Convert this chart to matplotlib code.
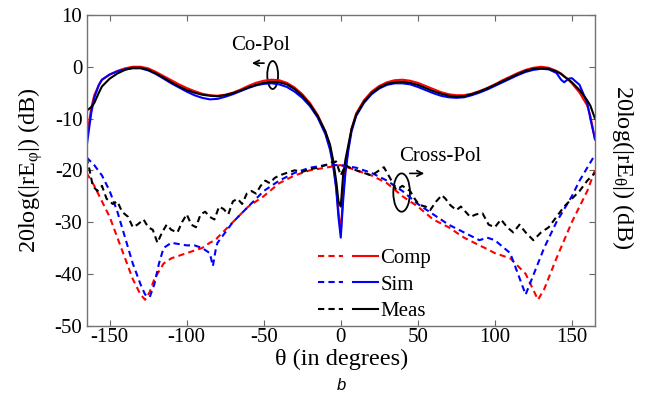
import numpy as np
import matplotlib
matplotlib.use("Agg")
import matplotlib.pyplot as plt
from matplotlib.patches import Ellipse
from matplotlib.legend_handler import HandlerTuple
from matplotlib.lines import Line2D

plt.rcParams['font.family'] = ['Liberation Serif', 'DejaVu Serif']
plt.rcParams['mathtext.fontset'] = 'custom'
plt.rcParams['mathtext.rm'] = 'Liberation Serif'
plt.rcParams['mathtext.it'] = 'Liberation Serif:italic'
plt.rcParams['axes.unicode_minus'] = False

# co-pol (solid)
th_co = [-165, -162, -160, -157, -155, -150, -145, -140, -135, -130, -125, -120, -115, -110, -105,
         -100, -95, -90, -85, -80, -75, -70, -65, -60, -55, -50, -45, -40, -35, -30, -25, -20, -15,
         -10, -7, -5, -3, -1.5, 0, 1.5, 3, 5, 7, 10, 15, 20, 25, 30, 35, 40, 45, 50, 55, 60, 65,
         70, 75, 80, 85, 90, 95, 100, 105, 110, 115, 120, 125, 130, 135, 140, 143, 145, 148, 150,
         155, 160, 162, 165]
comp_co = [-14, -8, -5.5, -3.5, -2.5, -1.5, -0.8, -0.3, 0, 0, -0.3, -1, -1.8, -2.6, -3.4,
           -4.1, -4.7, -5.2, -5.5, -5.6, -5.4, -5, -4.4, -3.7, -3.1, -2.7, -2.5, -2.6, -3.1, -4, -5.3, -7, -9.3,
           -12.5, -15.5, -18.5, -23, -28, -32, -25, -20, -15.5, -12, -9, -6.5, -4.8, -3.7, -3, -2.6, -2.5, -2.7, -3.1, -3.7, -4.3, -4.9,
           -5.3, -5.5, -5.5, -5.2, -4.7, -4.1, -3.4, -2.6, -1.9, -1.2, -0.6, -0.2, 0, -0.2, -0.8, -1.3, -1.8, -2.6, -3.2,
           -5, -7.5, -9.5, -14]
sim_co = [-15.5, -9, -6, -3.5, -2.5, -1.5, -0.9, -0.5, -0.3, -0.3, -0.7, -1.4, -2.3, -3.2, -4,
          -4.8, -5.5, -6, -6.3, -6.2, -5.8, -5.3, -4.7, -4.1, -3.6, -3.3, -3.2, -3.4, -3.9, -4.8, -6, -7.6, -9.8,
          -13, -16, -19, -23.5, -29, -33, -26, -20.5, -16, -12.5, -9.5, -7, -5.3, -4.2, -3.5, -3.2, -3.2, -3.4, -3.9, -4.5, -5.1, -5.6,
          -5.9, -6, -5.9, -5.5, -5, -4.4, -3.7, -3, -2.3, -1.6, -1, -0.6, -0.4, -0.5, -1.2, -2.5, -3, -2.3, -2.2,
          -3.5, -7, -10, -14]
meas_co = [-8.5, -7.8, -7, -5, -3.8, -2.3, -1.3, -0.6, -0.2, -0.2, -0.6, -1.3, -2.1, -3, -3.8,
           -4.5, -5, -5.4, -5.6, -5.7, -5.5, -5.1, -4.6, -4, -3.5, -3.1, -2.9, -3, -3.4, -4.3, -5.6, -7.3, -9.5,
           -12.5, -15, -18, -22, -26, -27, -21, -18, -15, -12, -9.3, -6.8, -5.1, -4, -3.3, -3, -2.9, -3.1, -3.5, -4.1, -4.7, -5.2,
           -5.6, -5.8, -5.7, -5.3, -4.8, -4.2, -3.5, -2.8, -2.1, -1.4, -0.8, -0.4, -0.3, -0.4, -0.9, -1.4, -1.9, -2.5, -3,
           -4.5, -6.5, -7.5, -10]

# cross-pol (dashed)
th_x = [-165, -160, -155, -150, -145, -140, -135, -130, -127, -124, -121, -118, -115, -110, -100,
        -95, -90, -85, -83, -81, -80, -75, -70, -60, -50, -40, -30, -20, -10, 0, 10, 20, 30, 40,
        50, 60, 70, 80, 90, 95, 100, 110, 115, 120, 124, 128, 132, 140, 150, 155, 160, 165]
comp_x = [-20.5, -23, -26, -29, -33, -37, -41, -44, -45, -43.5, -41, -39.5, -38, -37, -36,
          -35.5, -35, -34, -33.7, -33.4, -33, -31.5, -30, -27, -25, -22.5, -21, -20, -19.5, -19, -20, -21, -22.5, -25,
          -27, -29.5, -31, -33, -34.5, -35.2, -36, -37, -38.5, -40, -42.5, -45, -43, -37, -30, -27, -24, -20]
sim_x = [-17.5, -19, -21, -24, -28, -33, -38, -42, -44, -44.5, -42, -38, -35, -34, -34.5,
         -34.5, -35, -36, -38.5, -35, -34, -32, -30, -27, -24, -22, -20.5, -19.5, -19, -19, -19.5, -20.5, -22, -24,
         -26.5, -28.5, -30.5, -32, -33.5, -33, -33.5, -36, -40, -44, -41, -38, -35, -30, -25, -22, -19.5, -17]

th_meas_x = [-165, -163, -161, -158, -155, -152, -148, -145, -142, -138, -135, -132, -128, -125, -122,
             -119, -116, -113, -110, -106, -103, -100, -97, -94, -91, -88, -85, -82, -79, -76, -73,
             -70, -67, -64, -61, -58, -55, -52, -49, -46, -43, -40, -35, -30, -25, -20, -15, -10, -6,
             -3, 0, 3, 6, 10, 15, 20, 25, 28, 32, 36, 40, 45, 48, 51, 55, 58, 62, 65.6, 68, 71, 75,
             78, 81, 84, 88, 92, 96, 100, 104, 108, 112, 116, 120, 125, 130, 135, 140, 145, 150, 155,
             160, 165]
meas_x = [-17.5, -20, -23, -24, -23, -25.5, -26.5, -26, -28, -29, -31, -30.5, -29.5, -31, -31.5,
          -34, -32, -30.5, -31.5, -32, -30, -28.5, -30.5, -31, -28.5, -28, -29, -29.5, -27, -27.5, -28.5,
          -26, -25.5, -26.5, -24.5, -24, -24.5, -23, -22, -22.5, -21.5, -21, -20.5, -20, -20.3, -19.8, -19.5, -19, -18.5,
          -18.3, -21, -19, -19.5, -20, -20.5, -21, -20, -19.4, -21.5, -23.8, -23, -24, -25.5, -26.7, -27, -27.7, -26, -24.8, -25.5, -26.7, -27.7,
          -27, -28, -29, -28.5, -28.3, -30.5, -31, -29.5, -31, -32, -30.5, -32, -33.5, -32, -31, -29, -27, -25.5, -24,
          -22, -20.5]

xticks = [-150, -100, -50, 0, 50, 100, 150]
yticks = [-50, -40, -30, -20, -10, 0, 10]

fig = plt.figure(figsize=(6.46, 4.05), dpi=100)
ax = fig.add_axes([0.134, 0.196, 0.787, 0.767])

lw = 1.5
dsh = (3, 2)
ax.plot(th_co, comp_co, color='red', lw=lw)
ax.plot(th_co, sim_co, color='blue', lw=lw)
ax.plot(th_co, meas_co, color='black', lw=lw)
ax.plot(th_x, comp_x, color='red', lw=lw, ls=(0, dsh))
ax.plot(th_x, sim_x, color='blue', lw=lw, ls=(0, dsh))
ax.plot(th_meas_x, meas_x, color='black', lw=lw, ls=(0, dsh))

ax.set_xlim(-165, 165)
ax.set_ylim(-50, 10)
ax.set_xticks(xticks)
ax.set_yticks(yticks)
ax.set_xticklabels([str(v) for v in xticks], family='Liberation Serif')
ax.set_yticklabels([str(v) for v in yticks], family='Liberation Serif')
ax.tick_params(direction='in', top=True, right=True, labelsize=15, length=4, color='0.4', pad=3)
ax.tick_params(axis='x', pad=2)
for s in ax.spines.values():
    s.set_color('0.45')
    s.set_linewidth(1)

fig.text(342 / 646, 1 - 359 / 405, 'θ (in degrees)', fontsize=17.5, ha='center', va='center')
fig.text(31 / 646, 1 - 170 / 405, r'20log(|rE$_{\mathrm{φ}}$|) (dB)', fontsize=17.5,
         rotation=90, ha='center', va='center')
fig.text(623 / 646, 1 - 167 / 405, r'20log(|rE$_{\mathrm{θ}}$|) (dB)', fontsize=17.5,
         rotation=270, ha='center', va='center')
fig.text(341 / 646, 1 - 386 / 405, 'b', fontsize=12, style='italic',
         family='Liberation Sans', ha='center', va='center')

# annotations
ax.text(-52, 4.2, 'Co-Pol', fontsize=15, ha='center', va='center')
ax.add_patch(Ellipse((-44.2, -1.6), 7, 5.4, fill=False, color='black', lw=1.3))
ax.annotate('', xy=(-59.5, 0.7), xytext=(-48, 0.7),
            arrowprops=dict(arrowstyle='->', color='black', lw=1.2))
ax.text(64.8, -17.4, 'Cross-Pol', fontsize=15, ha='center', va='center')
ax.add_patch(Ellipse((39.5, -24.3), 10.8, 7.4, fill=False, color='black', lw=1.3))
ax.annotate('', xy=(56, -20.6), xytext=(43, -20.6),
            arrowprops=dict(arrowstyle='->', color='black', lw=1.2))

# legend
names = ['Comp', 'Sim', 'Meas']
cols = ['red', 'blue', 'black']
handles = []
for c in cols:
    d = Line2D([], [], color=c, lw=lw, ls=(0, dsh))
    s = Line2D([], [], color=c, lw=lw)
    handles.append((d, s))
ax.legend(handles, names, handler_map={tuple: HandlerTuple(ndivide=None, pad=0.5)},
          loc='upper left', bbox_to_anchor=(0.455, 0.247), frameon=False, fontsize=15,
          handlelength=2.9, handletextpad=0.1, labelspacing=0.32, borderpad=0, borderaxespad=0)

fig.savefig('out.png', dpi=100)
